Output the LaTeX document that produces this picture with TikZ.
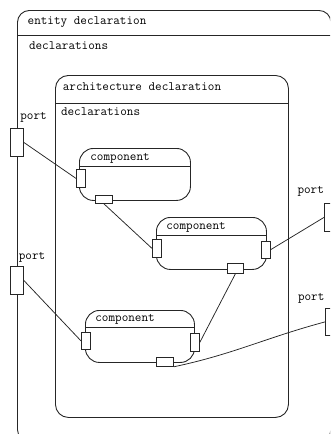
\documentclass[tikz,border=0pt]{standalone}
\usepackage{fontspec}
\begin{document}
\begin{tikzpicture}[x=1pt,y=-1pt,
  boxline/.style={draw=black!85, line width=0.9pt},
  bigbox/.style={boxline, rounded corners=12pt, inner sep=0pt, anchor=north west},
  compbox/.style={boxline, rounded corners=14pt, inner sep=0pt, anchor=north west},
  portbox/.style={draw=black!85, line width=0.8pt, fill=white, inner sep=0pt, anchor=north west},
  lbl/.style={inner sep=0pt, anchor=base west, font=\ttfamily\fontsize{12.8}{14}\selectfont},
  conn/.style={draw=black!85, line width=0.75pt}]
\useasboundingbox (0,0) rectangle (330,434);
\clip (0,0) rectangle (330,434);
% entity
\node[bigbox, minimum width=313.5pt, minimum height=431pt] (ent) at (17,10) {};
\draw[boxline] (17,35) -- (330.5,35);
\node[lbl] (entT) at (27.5,24) {entity declaration};
\node[lbl] (entD) at (28.8,49) {declarations};
% architecture
\node[bigbox, rounded corners=13pt, minimum width=233pt, minimum height=342pt] (arch) at (55,75) {};
\draw[boxline] (55,103) -- (288,103);
\node[lbl] (archT) at (62.7,90) {architecture declaration};
\node[lbl] (archD) at (60.8,115.5) {declarations};
% components
\node[compbox, minimum width=111pt, minimum height=52pt] (c1) at (79,148) {};
\draw[boxline] (79,166) -- (190,166);
\node[lbl] (c1T) at (90.2,160) {component};
\node[compbox, minimum width=110pt, minimum height=52pt] (c2) at (156,217) {};
\draw[boxline] (156,235) -- (266,235);
\node[lbl] (c2T) at (166.2,229) {component};
\node[compbox, minimum width=109pt, minimum height=52pt] (c3) at (85,310) {};
\draw[boxline] (85,327) -- (194,327);
\node[lbl] (c3T) at (95.2,321.5) {component};
% component ports
\node[portbox, minimum width=9pt, minimum height=18pt] (c1L) at (76,169) {};
\node[portbox, minimum width=17pt, minimum height=8pt] (c1B) at (95,195) {};
\node[portbox, minimum width=9pt, minimum height=18pt] (c2L) at (152,239) {};
\node[portbox, minimum width=8.5pt, minimum height=17pt] (c2R) at (261,241) {};
\node[portbox, minimum width=16pt, minimum height=10pt] (c2B) at (227,263) {};
\node[portbox, minimum width=9pt, minimum height=17pt] (c3L) at (81,332) {};
\node[portbox, minimum width=9pt, minimum height=18pt] (c3R) at (190,333) {};
\node[portbox, minimum width=17pt, minimum height=9pt] (c3B) at (156,357) {};
% outer ports
\node[portbox, minimum width=13pt, minimum height=28pt] (lp1) at (10,128) {};
\node[lbl] (lp1T) at (20.2,119) {port};
\node[portbox, minimum width=13pt, minimum height=28pt] (lp2) at (10,266) {};
\node[lbl] (lp2T) at (18.7,259) {port};
\node[portbox, minimum width=13pt, minimum height=28pt] (rp1) at (324,203) {};
\node[lbl] (rp1T) at (297.3,193) {port};
\node[portbox, minimum width=13pt, minimum height=27pt] (rp2) at (325,308) {};
\node[lbl] (rp2T) at (297.8,300) {port};
% connectors
\draw[conn] (lp1.east) -- (c1L.west);
\draw[conn] (c1B.south) -- (c2L.west);
\draw[conn] (c2R.east) -- (rp1.west);
\draw[conn] (c2B.south) -- (c3R.east);
\draw[conn] (lp2.east) -- (c3L.west);
\draw[conn] (rp2.west) to[out=195,in=12] (c3B.south east);
\end{tikzpicture}
\end{document}
